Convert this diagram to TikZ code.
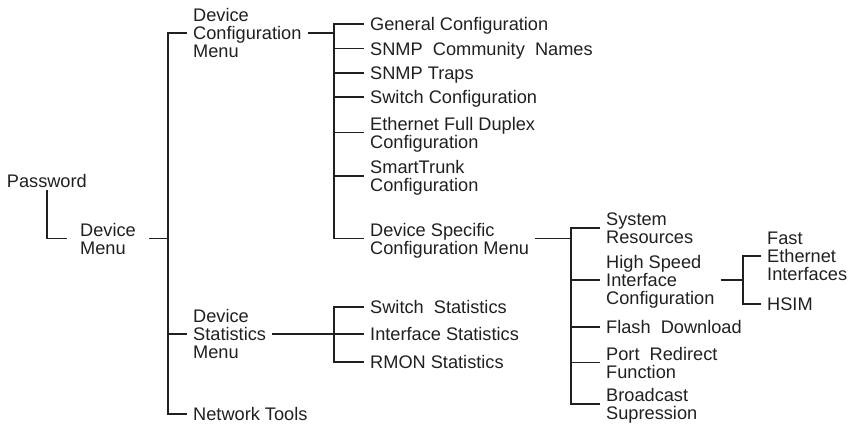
\documentclass[tikz,border=0pt]{standalone}
\usepackage{fontspec}
\setmainfont{Liberation Sans}
\usepackage{tikz}
\definecolor{ink}{rgb}{0.13,0.12,0.12}

\begin{document}
\begin{tikzpicture}[x=1pt,y=-1pt,
	item/.style={anchor=west, align=left, inner xsep=6pt, inner ysep=3pt, text depth=0pt,
		font=\fontsize{18.2}{18}\selectfont, text=ink},
	link/.style={draw=ink, line width=1.8pt}]
	\useasboundingbox (0,0) rectangle (860,427);

	% menu entries
	\node[item] (pw) at (0.7,180.6) {Password};
	\node[item, inner xsep=13pt] (dm) at (67,238.5) {Device\\Menu};

	\node[item] (dcm) at (187,33) {Device\\Configuration\\Menu};
	\node[item] (dsm) at (187,334) {Device\\Statistics\\Menu};
	\node[item] (nt) at (187,414) {Network Tools};

	\node[item] (gc) at (364,24) {General Configuration};
	\node[item] (scn) at (364,48.5) {SNMP~ Community~ Names};
	\node[item] (st) at (364,73) {SNMP Traps};
	\node[item] (sc) at (364,97) {Switch Configuration};
	\node[item] (efd) at (364,132.5) {Ethernet Full Duplex\\Configuration};
	\node[item] (stc) at (364,176) {SmartTrunk\\Configuration};
	\node[item] (dsc) at (364,238.5) {Device Specific\\Configuration Menu};

	\node[item] (ss) at (364,306.7) {Switch~ Statistics};
	\node[item] (is) at (364,334) {Interface Statistics};
	\node[item] (rs) at (364,361.7) {RMON Statistics};

	\node[item] (sr) at (600,228) {System\\Resources};
	\node[item] (hsi) at (600,280) {High Speed\\Interface\\Configuration};
	\node[item] (fd) at (600,326.7) {Flash~ Download};
	\node[item] (prf) at (600,362.5) {Port~ Redirect\\Function};
	\node[item] (bs) at (600,404) {Broadcast\\Supression};

	\node[item] (fei) at (761,256) {Fast\\Ethernet\\Interfaces};
	\node[item] (hsim) at (761,304) {HSIM};

	% bus lines
	\coordinate (b1) at (168,0);
	\coordinate (b2) at (334,0);
	\coordinate (b3) at (571,0);
	\coordinate (b4) at (743,0);

	\draw[link] (pw.south) |- (dm.west);
	\draw[link] (dm.east) -- (dm.east -| b1);
	\draw[link] (dcm.west) -| (b1 |- nt.west) -- (nt.west);
	\draw[link] (b1 |- dsm.west) -- (dsm.west);

	\draw[link] (dcm.east) -- (dcm.east -| b2);
	\draw[link] (gc.west) -| (b2 |- dsc.west) -- (dsc.west);
	\foreach \n in {scn,st,sc,efd,stc}
		\draw[link] (b2 |- \n.west) -- (\n.west);

	\draw[link] (dsm.east) -- (dsm.east -| b2);
	\draw[link] (ss.west) -| (b2 |- rs.west) -- (rs.west);
	\draw[link] (b2 |- is.west) -- (is.west);

	\draw[link] (dsc.east) -- (dsc.east -| b3);
	\draw[link] (sr.west) -| (b3 |- bs.west) -- (bs.west);
	\foreach \n in {hsi,fd,prf}
		\draw[link] (b3 |- \n.west) -- (\n.west);

	\draw[link] (hsi.east) -- (hsi.east -| b4);
	\draw[link] (fei.west) -| (b4 |- hsim.west) -- (hsim.west);

\end{tikzpicture}
\end{document}
